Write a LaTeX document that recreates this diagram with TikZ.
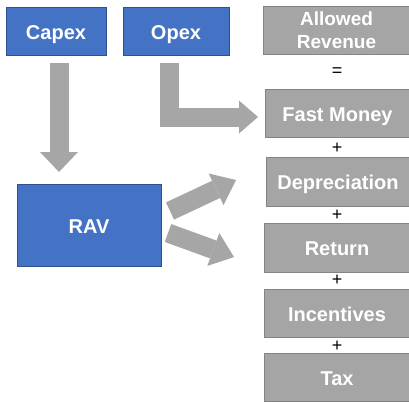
\documentclass[tikz,border=0pt]{standalone}
\usepackage{fontspec}
\setmainfont{Liberation Sans}
\usetikzlibrary{arrows.meta}
\definecolor{bluefill}{HTML}{4472C4}
\definecolor{blueline}{HTML}{2F528F}
\definecolor{grayfill}{HTML}{A5A5A5}
\definecolor{grayline}{HTML}{848484}
\definecolor{arrowgray}{HTML}{A6A6A6}
\begin{document}
\begin{tikzpicture}[x=1pt,y=-1pt,
  boxbase/.style={line width=0.8pt,text=white,
    font=\fontsize{20}{23}\selectfont\bfseries,inner sep=0pt,align=center,
    text height=16.3pt,text depth=0pt},
  bluebox/.style={boxbase,draw=blueline,fill=bluefill},
  graybox/.style={boxbase,draw=grayline,fill=grayfill},
  sign/.style={font=\fontsize{18}{20}\selectfont,inner sep=0pt},
  bigarrow/.style={draw=arrowgray,line width=19pt,line join=miter,
    -{Triangle[length=20pt,width=38pt,line width=0pt,fill=arrowgray]}},
]
\useasboundingbox (0,0) rectangle (409,402);
\begin{scope}
\clip (0,0) rectangle (409,402);
\node[bluebox,minimum width=100pt,minimum height=48pt] (capex) at (56,31) {Capex};
\node[bluebox,minimum width=106pt,minimum height=48pt] (opex) at (176,31) {Opex};
\node[bluebox,minimum width=144pt,minimum height=82pt] (rav) at (89,225) {RAV};

\node[draw=grayline,fill=grayfill,line width=0.8pt,text=white,inner sep=0pt,align=center,
  font=\fontsize{19}{23.5}\selectfont\bfseries,
  minimum width=147pt,minimum height=48pt] (ar) at (336.5,30) {Allowed\\Revenue};
\node[graybox,minimum width=145pt,minimum height=48pt] (fm) at (337.5,113) {Fast Money};
\node[graybox,minimum width=144pt,minimum height=49pt] (dep) at (338,181.5) {Depreciation};
\node[graybox,minimum width=146pt,minimum height=49pt] (ret) at (337,247.5) {Return};
\node[graybox,minimum width=146pt,minimum height=48pt] (inc) at (337,313) {Incentives};
\node[graybox,minimum width=146pt,minimum height=48pt] (tax) at (337,377) {Tax};
\end{scope}

\node[sign] (s0) at (337,72.5) {=};
\node[sign] (s1) at (337,148) {+};
\node[sign] (s2) at (337,215) {+};
\node[sign] (s3) at (337,280.5) {+};
\node[sign] (s4) at (337,346) {+};

\coordinate (ca) at (59,63);
\coordinate (ct) at (59,172);
\draw[bigarrow] (ca) -- (ct);

\coordinate (oa) at (169.5,63);
\coordinate (ot) at (258,117);
\draw[bigarrow,-{Triangle[length=19pt,width=33pt,line width=0pt,fill=arrowgray]}] (oa) |- (ot);

\coordinate (r1a) at (170,211);
\coordinate (r1t) at (236,180);
\draw[bigarrow,-{Triangle[length=22pt,width=35pt,line width=0pt,fill=arrowgray]}] (r1a) -- (r1t);

\coordinate (r2a) at (168,233);
\coordinate (r2t) at (234,257);
\draw[bigarrow,-{Triangle[length=22pt,width=35pt,line width=0pt,fill=arrowgray]}] (r2a) -- (r2t);
\end{tikzpicture}
\end{document}
